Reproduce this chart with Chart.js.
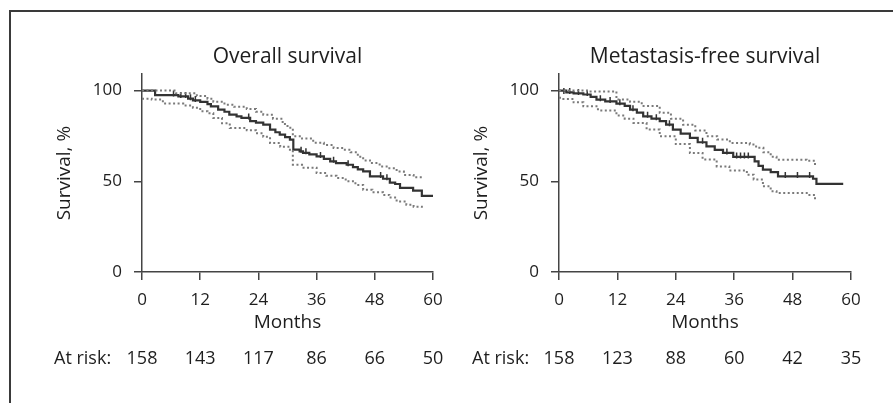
<!DOCTYPE html>
<html>
<head>
<meta charset="utf-8">
<script src="https://cdn.jsdelivr.net/npm/chart.js@4.4.1/dist/chart.umd.min.js"></script>
<style>
  html, body { margin: 0; padding: 0; background: #fff; }
  #wrap { position: relative; width: 893px; height: 403px; overflow: hidden; }
  #frame { position: absolute; left: 9px; top: 10px; width: 900px; height: 420px;
           border-left: 2px solid #3a3a3a; border-top: 2px solid #3a3a3a; }
  canvas { position: absolute; top: 0; }
  #osChart { left: 0; }
  #mfsChart { left: 446px; }
</style>
</head>
<body>
<div id="wrap">
  <div id="frame"></div>
  <canvas id="osChart" width="446" height="403"></canvas>
  <canvas id="mfsChart" width="447" height="403"></canvas>
</div>
<script>
// months / survival %
const riskMonths = [0, 12, 24, 36, 48, 60];

const osAtRisk = [158, 143, 117, 86, 66, 50];
const osTime  = [0, 2.7, 7.5, 9.5, 10.5, 12, 13.5, 14.2, 15.7, 17, 18, 19.5, 20.5, 22.3, 23.5, 25, 26.4, 27.5, 28.4, 29.5, 30.5, 31.2, 32.5, 33.2, 34.5, 36, 37.5, 38.8, 40, 42.2, 43.5, 44.5, 45.6, 47, 49.7, 51.1, 52.2, 53.2, 55.9, 57.7, 60.4];
const osSurv  = [100, 97.5, 96.8, 95.5, 94.6, 93.8, 92.5, 91.3, 89.5, 88.3, 86.7, 85.8, 84.9, 83.1, 82.3, 81.2, 78.5, 77, 75.7, 74.3, 72.9, 67.4, 66.5, 65.7, 64.8, 63.7, 62.3, 61, 60, 59.1, 57.8, 56.5, 55.4, 52.7, 51.4, 49.2, 48.5, 46.4, 44.8, 42, 42];
const osUpTime = [0, 7, 11.3, 13.5, 14.7, 17, 19, 21.6, 23.5, 25, 27, 29, 30, 31.1, 33, 35.3, 37.5, 39.5, 41.5, 43, 44.5, 45.6, 47, 49, 51, 52.5, 54, 56, 57.7];
const osUp     = [100, 98.5, 97, 95.5, 93.8, 92.2, 91, 89.8, 88.3, 86.7, 84.5, 81.5, 79.5, 74.8, 73.5, 71.2, 70, 68.4, 67.4, 66, 63.5, 61.5, 60, 58.2, 57.2, 55.4, 53.5, 52.2, 51.2];
const osLoTime = [0, 2, 4.3, 8.5, 10.5, 12, 13.5, 14.7, 16.5, 18.1, 21.6, 23.5, 25, 26.4, 28.5, 30.5, 31.1, 33, 36, 38, 40.1, 42, 44, 45.6, 47.5, 49.7, 51, 52.5, 54.5, 56, 57.7];
const osLo     = [95.5, 95, 92.8, 91.7, 90.5, 88.6, 87.5, 84.9, 82, 79.4, 78.1, 76.5, 74.5, 71.1, 69, 66.5, 59.1, 57.5, 54.5, 53, 51.8, 50, 48, 45.3, 44, 42.5, 41, 38.8, 37, 36, 35.2];
const osCensor = [[6.5, 97.5], [8, 96.8], [9, 96.8], [10, 95.5], [11, 94.6], [22, 84.9], [32.8, 66.5], [33.8, 65.7], [36.8, 63.7], [39.5, 61], [42.5, 59.1], [49.2, 52.7], [50.5, 51.4], [60.4, 42]];

const mfsAtRisk = [158, 123, 88, 60, 42, 35];
const mfsTime  = [0, 1.5, 3, 5, 6.5, 7.7, 9.5, 11.8, 13.5, 14.6, 16, 17.3, 19, 20.7, 22, 23.4, 25, 26.9, 28.5, 30.3, 32, 33.7, 35.8, 40.2, 41, 41.9, 43.5, 45, 52.2, 52.9, 58.4];
const mfsSurv  = [100, 99, 98.4, 97.8, 96.5, 95, 94, 92.8, 91.5, 89.5, 87.8, 85.8, 84.5, 83.1, 81.2, 78.5, 76.2, 73.9, 71.5, 69.2, 67.3, 65.6, 63.4, 61, 58.5, 56.4, 55, 52.7, 51.4, 48.6, 48.6];
const mfsUpTime = [0, 6, 11.8, 14.6, 17, 20.7, 23, 25.5, 28, 30.3, 32.5, 35.1, 39.2, 40.5, 42, 43.5, 44.7, 50.9, 52.6];
const mfsUp     = [100, 99.5, 95, 93.8, 91.5, 87.7, 84.5, 81.2, 78, 74.8, 73, 71.1, 70.2, 68.5, 66, 63.5, 61.9, 61.3, 58.6];
const mfsLoTime = [0, 0.9, 3, 5, 8, 11.8, 13.5, 15.3, 18, 20.7, 24, 26.9, 29.5, 32.4, 35, 38.6, 40, 41.9, 43.5, 44.7, 50.9, 52.6];
const mfsLo     = [96, 95.4, 93.5, 91.3, 89, 86.2, 84.5, 82.1, 78.5, 74.8, 70.5, 65.6, 62, 58.2, 56, 53.6, 51, 47.2, 44.5, 43.5, 42.5, 39.4];
const mfsCensor = [[1, 99], [2.2, 99], [4, 98.4], [5.8, 97.8], [8.5, 95], [10.5, 94], [12.5, 92.8], [15.2, 89.5], [18.2, 85.8], [20, 84.5], [22.7, 81.2], [29.5, 71.5], [34.5, 65.6], [36.5, 63.4], [37.3, 63.4], [38.1, 63.4], [38.9, 63.4], [46.5, 52.7], [49, 52.7], [51.5, 52.7]];

const toPoints = (xs, ys) => xs.map((x, i) => ({ x: x, y: ys[i] }));

const atRiskPlugin = {
  id: 'atRisk',
  afterDraw(chart, args, opts) {
    const ctx = chart.ctx;
    const x = chart.scales.x;
    ctx.save();
    ctx.font = '18px "Open Sans"';
    ctx.fillStyle = '#1e1e1e';
    ctx.textBaseline = 'middle';
    ctx.textAlign = 'left';
    ctx.fillText('At risk:', opts.labelX, opts.y);
    ctx.textAlign = 'center';
    opts.counts.forEach((n, i) => ctx.fillText(String(n), x.getPixelForValue(riskMonths[i]), opts.y));
    ctx.restore();
  }
};

function makeChart(id, title, main, up, lo, censor, atRisk, pad, riskLabelX) {
  return new Chart(document.getElementById(id), {
    type: 'line',
    data: {
      datasets: [
        { data: up, stepped: true, borderColor: '#7a7a7a', borderWidth: 2, borderDash: [2, 2.5], pointRadius: 0 },
        { data: lo, stepped: true, borderColor: '#7a7a7a', borderWidth: 2, borderDash: [2, 2.5], pointRadius: 0 },
        { data: main, stepped: true, borderColor: '#333', borderWidth: 2.2, pointRadius: 0 },
        { type: 'scatter', data: censor.map(c => ({ x: c[0], y: c[1] + 0.8 })), pointStyle: 'line', rotation: 90,
          pointRadius: 3, borderColor: '#333', borderWidth: 1.5, showLine: false }
      ]
    },
    options: {
      responsive: false,
      animation: false,
      devicePixelRatio: 1,
      layout: { padding: { left: pad.left, right: pad.right, top: 0, bottom: 65 } },
      scales: {
        x: {
          type: 'linear', min: 0, max: 60,
          border: { color: '#444', width: 1.5 },
          grid: { drawOnChartArea: false, tickLength: 8, color: '#444', lineWidth: 1.5 },
          ticks: { stepSize: 12, padding: 10, color: '#1e1e1e', font: { family: 'Open Sans', size: 17 } },
          title: { display: true, text: 'Months', color: '#1e1e1e', font: { family: 'Open Sans', size: 19 } },
          afterFit: s => { s.height = 66; s.paddingLeft = 0; s.paddingRight = 0; }
        },
        y: {
          type: 'linear', min: 0, max: 109,
          border: { color: '#444', width: 1.5 },
          grid: { drawOnChartArea: false, tickLength: 8, color: '#444', lineWidth: 1.5 },
          ticks: { padding: 12, color: '#1e1e1e', font: { family: 'Open Sans', size: 17 } },
          afterBuildTicks: s => { s.ticks = [0, 50, 100].map(v => ({ value: v })); },
          title: { display: true, text: 'Survival, %', color: '#1e1e1e', font: { family: 'Open Sans', size: 19 } },
          afterFit: s => { s.width = pad.yWidth; }
        }
      },
      plugins: {
        legend: { display: false },
        tooltip: { enabled: false },
        title: { display: true, text: title, fullSize: false, color: '#1e1e1e',
                 padding: { top: 44, bottom: 5 }, font: { family: 'Open Sans', size: 21, weight: 'normal' } },
        atRisk: { counts: atRisk, y: 359, labelX: riskLabelX }
      }
    },
    plugins: [atRiskPlugin]
  });
}

makeChart('osChart', 'Overall survival',
  toPoints(osTime, osSurv), toPoints(osUpTime, osUp), toPoints(osLoTime, osLo),
  osCensor, osAtRisk, { left: 49, right: 13, yWidth: 93 }, 54);

makeChart('mfsChart', 'Metastasis-free survival',
  toPoints(mfsTime, mfsSurv), toPoints(mfsUpTime, mfsUp), toPoints(mfsLoTime, mfsLo),
  mfsCensor, mfsAtRisk, { left: 20, right: 42, yWidth: 93 }, 26);
</script>
</body>
</html>
